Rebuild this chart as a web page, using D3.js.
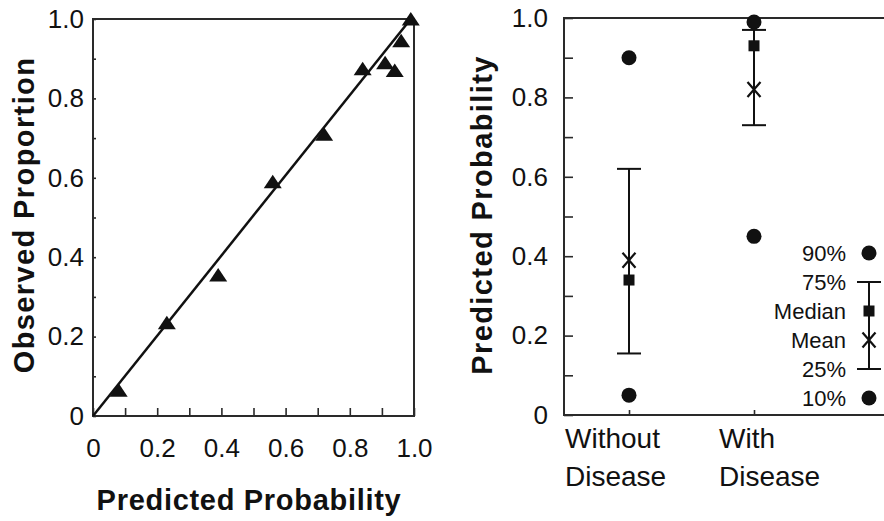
<!DOCTYPE html>
<html><head><meta charset="utf-8">
<script src="https://cdn.jsdelivr.net/npm/d3@7"></script>
<style>
html,body{margin:0;padding:0;background:#fff;}
svg{display:block;font-family:"Liberation Sans",Arial,Helvetica,sans-serif;}
</style></head>
<body>
<svg id="chart" width="884" height="521"></svg>
<script>
// ---- Data ----
const calibPredicted = [0.08, 0.23, 0.39, 0.56, 0.72, 0.84, 0.91, 0.94, 0.96, 0.99];
const calibObserved  = [0.065, 0.235, 0.355, 0.59, 0.71, 0.875, 0.89, 0.87, 0.945, 1.0];
const fitLine = [[0, 0], [0.99, 1.0]];

const groups   = ["Without Disease", "With Disease"];
const p10      = [0.05, 0.45];
const p25      = [0.155, 0.73];
const median   = [0.34, 0.93];
const mean     = [0.39, 0.82];
const p75      = [0.62, 0.97];
const p90      = [0.90, 0.99];

const axisTicks  = [0, 0.1, 0.2, 0.3, 0.4, 0.5, 0.6, 0.7, 0.8, 0.9, 1.0];
const tickLabels = {"0": "0", "0.2": "0.2", "0.4": "0.4", "0.6": "0.6", "0.8": "0.8", "1": "1.0"};
const legendItems = ["90%", "75%", "Median", "Mean", "25%", "10%"];

// ---- Setup ----
const svg = d3.select("#chart");
const ink = "#111";
const axisInk = "#2a2a2a";
const fmt = v => tickLabels[String(+v.toFixed(1))] || "";

function styleAxis(g, size) {
  g.select(".domain").remove();
  g.selectAll(".tick line").attr("stroke", axisInk).attr("stroke-width", 1.6);
  g.selectAll(".tick text").attr("fill", ink).style("font-size", size + "px");
}

// ================= Left panel =================
const L = {left: 93, right: 414, top: 19, bottom: 416};
const xL = d3.scaleLinear().domain([0, 1]).range([L.left, L.right]);
const yL = d3.scaleLinear().domain([0, 1]).range([L.bottom, L.top]);

const gLx = svg.append("g").attr("transform", `translate(0,${L.bottom})`)
  .call(d3.axisBottom(xL).tickValues(axisTicks).tickSizeInner(-8).tickSizeOuter(0).tickPadding(23).tickFormat(fmt));
styleAxis(gLx, 26);
const gLy = svg.append("g").attr("transform", `translate(${L.left},0)`)
  .call(d3.axisLeft(yL).tickValues(axisTicks).tickSizeInner(-3).tickSizeOuter(0).tickPadding(9).tickFormat(fmt));
styleAxis(gLy, 26);

svg.append("rect")
  .attr("x", L.left).attr("y", L.top)
  .attr("width", L.right - L.left).attr("height", L.bottom - L.top)
  .attr("fill", "none").attr("stroke", axisInk).attr("stroke-width", 2);

svg.append("path")
  .datum(fitLine)
  .attr("d", d3.line().x(d => xL(d[0])).y(d => yL(d[1])))
  .attr("stroke", ink).attr("stroke-width", 2.5).attr("fill", "none");

const tri = "M-9,6.5L9,6.5L0,-7Z";
svg.append("g").selectAll("path")
  .data(calibPredicted.map((p, i) => [p, calibObserved[i]]))
  .join("path")
  .attr("d", tri)
  .attr("transform", d => `translate(${xL(d[0])},${yL(d[1])})`)
  .attr("fill", ink);

svg.append("text")
  .attr("transform", `translate(34,215) rotate(-90)`)
  .attr("text-anchor", "middle")
  .style("font-size", "29px").style("font-weight", "bold").style("letter-spacing", "1.4px")
  .attr("fill", ink)
  .text("Observed Proportion");

svg.append("text")
  .attr("x", 249).attr("y", 510)
  .attr("text-anchor", "middle")
  .style("font-size", "29px").style("font-weight", "bold").style("letter-spacing", "0.7px")
  .attr("fill", ink)
  .text("Predicted Probability");

// ================= Right panel =================
const R = {left: 564, right: 884, top: 18, bottom: 415};
const xR = d3.scalePoint().domain(groups).range([R.left + 65, R.left + 190]);
const yR = d3.scaleLinear().domain([0, 1]).range([R.bottom, R.top]);

const gRy = svg.append("g").attr("transform", `translate(${R.left},0)`)
  .call(d3.axisLeft(yR).tickValues(axisTicks).tickSizeInner(-9).tickSizeOuter(0).tickPadding(16).tickFormat(fmt));
styleAxis(gRy, 26);

const gRx = svg.append("g").attr("transform", `translate(0,${R.bottom})`)
  .call(d3.axisBottom(xR).tickSizeInner(-5).tickSizeOuter(0).tickFormat(""));
styleAxis(gRx, 26);

// frame: left, top, bottom
svg.append("path")
  .attr("d", d3.line()([[R.right, R.top], [R.left, R.top], [R.left, R.bottom], [R.right, R.bottom]]))
  .attr("fill", "none").attr("stroke", axisInk).attr("stroke-width", 2);

// category labels (two lines, left-aligned)
groups.forEach((g, i) => {
  const words = g.split(" ");
  const lx = i === 0 ? R.left + 1 : xR(g) - 35;
  const t = svg.append("text")
    .attr("x", lx).attr("y", 448)
    .style("font-size", "28px").attr("fill", ink);
  t.append("tspan").text(words[0]);
  t.append("tspan").attr("x", lx).attr("dy", 38).text(words[1]);
});

const capW = 24;
const stats = groups.map((g, i) => ({g, p10: p10[i], p25: p25[i], med: median[i], mean: mean[i], p75: p75[i], p90: p90[i]}));

function drawBox(sel, cx, yv) {
  sel.append("line").attr("x1", cx).attr("x2", cx).attr("y1", yv.p25).attr("y2", yv.p75)
    .attr("stroke", ink).attr("stroke-width", 2);
  [yv.p25, yv.p75].forEach(y => sel.append("line")
    .attr("x1", cx - capW / 2).attr("x2", cx + capW / 2).attr("y1", y).attr("y2", y)
    .attr("stroke", ink).attr("stroke-width", 2));
  sel.append("rect").attr("x", cx - 5.5).attr("y", yv.med - 5.5).attr("width", 11).attr("height", 11).attr("fill", ink);
  sel.append("path")
    .attr("d", `M${cx - 6.5},${yv.mean - 7.5}L${cx + 6.5},${yv.mean + 7.5}M${cx + 6.5},${yv.mean - 7.5}L${cx - 6.5},${yv.mean + 7.5}`)
    .attr("stroke", ink).attr("stroke-width", 2.2).attr("fill", "none");
  [yv.p10, yv.p90].forEach(y => sel.append("circle").attr("cx", cx).attr("cy", y).attr("r", 7.5).attr("fill", ink));
}

stats.forEach(s => {
  drawBox(svg.append("g"), xR(s.g), {
    p10: yR(s.p10), p25: yR(s.p25), med: yR(s.med), mean: yR(s.mean), p75: yR(s.p75), p90: yR(s.p90)
  });
});

// legend
const legY = d3.scalePoint().domain(legendItems).range([253, 398]);
const legX = 869;
drawBox(svg.append("g"), legX, {
  p90: legY("90%"), p75: legY("75%"), med: legY("Median"), mean: legY("Mean"), p25: legY("25%"), p10: legY("10%")
});
svg.append("g").selectAll("text").data(legendItems).join("text")
  .attr("x", 846).attr("y", d => legY(d)).attr("dy", "0.36em")
  .attr("text-anchor", "end")
  .style("font-size", "22px").attr("fill", ink)
  .text(d => d);

svg.append("text")
  .attr("transform", `translate(492,215) rotate(-90)`)
  .attr("text-anchor", "middle")
  .style("font-size", "29px").style("font-weight", "bold").style("letter-spacing", "1.4px")
  .attr("fill", ink)
  .text("Predicted Probability");
</script>
</body></html>
